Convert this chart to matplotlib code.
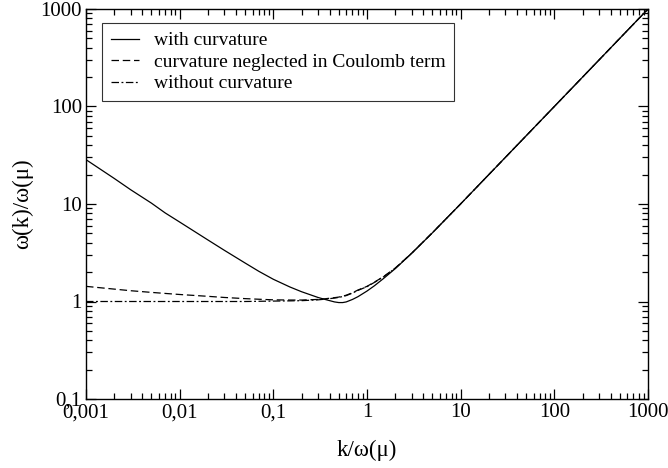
import matplotlib
matplotlib.use('Agg')
import matplotlib.pyplot as plt
from matplotlib.ticker import LogLocator, FuncFormatter, NullFormatter

plt.rcParams['font.family'] = ['Liberation Serif', 'DejaVu Serif']
plt.rcParams['font.size'] = 14

# k/omega(mu) values
k_vals = [0.001, 0.002, 0.003, 0.005, 0.007, 0.01, 0.02, 0.03, 0.05, 0.07,
          0.1, 0.15, 0.2, 0.3, 0.35, 0.4, 0.45, 0.5, 0.55, 0.6, 0.7, 0.8,
          1.0, 1.2, 1.5, 2.0, 3.0, 5.0, 10.0, 100.0, 1000.0]

# omega(k)/omega(mu), with curvature
w_curv = [28.5, 18.3, 14.0, 10.2, 8.1, 6.53, 4.28, 3.35, 2.48, 2.04,
          1.69, 1.41, 1.26, 1.1, 1.055, 1.02, 0.99, 0.975, 0.975, 0.99, 1.05, 1.12,
          1.28, 1.45, 1.72, 2.17, 3.12, 5.07, 10.03, 100.0, 1000.0]

# curvature neglected in Coulomb term
w_noc = [1.43, 1.34, 1.29, 1.24, 1.21, 1.18, 1.13, 1.10, 1.07, 1.055,
         1.04, 1.035, 1.035, 1.05, 1.065, 1.08, 1.095, 1.11, 1.135, 1.16, 1.23, 1.31,
         1.43, 1.58, 1.80, 2.2, 3.13, 5.08, 10.03, 100.0, 1000.0]

# without curvature
w_none = [1.0, 1.0, 1.0, 1.0, 1.0, 1.0, 1.0, 1.0, 1.0, 1.005,
          1.01, 1.015, 1.02, 1.04, 1.055, 1.07, 1.085, 1.10, 1.125, 1.15, 1.22, 1.30,
          1.42, 1.57, 1.79, 2.19, 3.12, 5.08, 10.03, 100.0, 1000.0]

fig = plt.figure(figsize=(6.68, 4.68), dpi=100)
ax = fig.add_axes([86/668, 1 - 399/468, (648-86)/668, (399-9)/468])

ax.plot(k_vals, w_curv, color='black', lw=0.9, ls='-', label='with curvature')
ax.plot(k_vals, w_noc, color='black', lw=0.9, ls=(0, (6, 3)),
        label='curvature neglected in Coulomb term')
ax.plot(k_vals, w_none, color='black', lw=0.9, ls=(0, (6, 2, 1.5, 2)),
        label='without curvature')

ax.set_xscale('log')
ax.set_yscale('log')
ax.set_xlim(0.001, 1000)
ax.set_ylim(0.1, 1000)

def comma(v, pos):
    if v < 1:
        s = ('%.3f' % v).rstrip('0')
    else:
        s = '%d' % round(v)
    return s.replace('.', ',')

ax.xaxis.set_major_locator(LogLocator(base=10, numticks=20))
ax.yaxis.set_major_locator(LogLocator(base=10, numticks=20))
ax.xaxis.set_minor_locator(LogLocator(base=10, subs=range(2, 10), numticks=20))
ax.yaxis.set_minor_locator(LogLocator(base=10, subs=range(2, 10), numticks=20))
ax.xaxis.set_major_formatter(FuncFormatter(comma))
ax.yaxis.set_major_formatter(FuncFormatter(comma))
ax.xaxis.set_minor_formatter(NullFormatter())
ax.yaxis.set_minor_formatter(NullFormatter())

ax.tick_params(which='both', direction='in', top=True, right=True, width=0.9)
ax.tick_params(which='major', length=7, labelsize=15, pad=3)
ax.tick_params(which='minor', length=4)
for s in ax.spines.values():
    s.set_linewidth(1.0)

ax.set_xlabel('k/ω(μ)', fontsize=16.5, labelpad=13)
ax.set_ylabel('ω(k)/ω(μ)', fontsize=16.5, labelpad=5)

leg = ax.legend(loc='upper left', bbox_to_anchor=((102-86)/562, 1 - (23-9)/390),
                borderaxespad=0, fontsize=14, frameon=True, fancybox=False,
                handlelength=1.45, borderpad=0.45, labelspacing=0.2,
                handletextpad=0.75)
leg.get_frame().set_edgecolor('black')
leg.get_frame().set_linewidth(0.8)

fig.savefig('out.png', dpi=100)
